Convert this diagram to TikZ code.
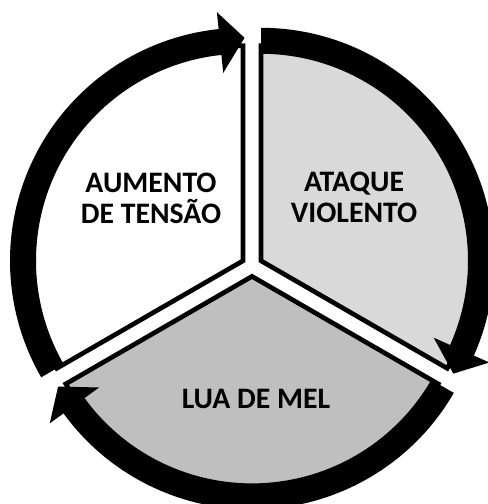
\documentclass[tikz,border=0pt]{standalone}
\usepackage{fontspec}
\setmainfont{Carlito}
\usepackage{tikz}
\definecolor{attackgray}{gray}{0.85}
\definecolor{honeygray}{gray}{0.75}
\tikzset{
  sector/.style={draw=black,line width=3.5pt,miter limit=20},
  ring/.style={fill=black},
  phase/.style={font=\bfseries\fontsize{22.3}{23.3}\selectfont,align=center,inner sep=0pt}
}
% thick arc arrow, clockwise from #1 to #2
\newcommand{\cyclearrow}[2]{%
  \fill[ring] (#1:233) arc[start angle=#1,end angle={#2+6},radius=233]
    -- ({#2+6}:250) -- ({#2-0.4}:223) -- ({#2+6}:189) -- ({#2+6}:207)
    arc[start angle={#2+6},end angle=#1,radius=207] -- cycle;}

\begin{document}
\begin{tikzpicture}[x=0.75pt,y=0.75pt]
    \useasboundingbox (0,0) rectangle (488,504);
    \clip (0,0) rectangle (488,504);
    \coordinate (tensao) at (243,243.2);
    \coordinate (ataque) at (261,243.2);
    \coordinate (luademel) at (252,227.6);

    \begin{scope}[shift={(tensao)}]
      \draw[sector,fill=white] (0,0) -- (90:215) arc[start angle=90,end angle=210,radius=215] -- cycle;
    \end{scope}
    \begin{scope}[shift={(ataque)}]
      \draw[sector,fill=attackgray] (0,0) -- (-30:215) arc[start angle=-30,end angle=90,radius=215] -- cycle;
    \end{scope}
    \begin{scope}[shift={(luademel)}]
      \draw[sector,fill=honeygray] (0,0) -- (210:215) arc[start angle=210,end angle=330,radius=215] -- cycle;
    \end{scope}

    \begin{scope}[shift={(tensao)}]
      \cyclearrow{210}{90}
    \end{scope}
    \begin{scope}[shift={(ataque)}]
      \cyclearrow{90}{-30}
    \end{scope}
    \begin{scope}[shift={(luademel)}]
      \cyclearrow{330}{210}
    \end{scope}

    \node[phase] (tensaotxt) at (151,306) {AUMENTO\\DE TENSÃO};
    \node[phase] (ataquetxt) at (354,306.5) {ATAQUE\\VIOLENTO};
    \node[phase] (meltxt) at (256,105) {LUA DE MEL};
\end{tikzpicture}
\end{document}
